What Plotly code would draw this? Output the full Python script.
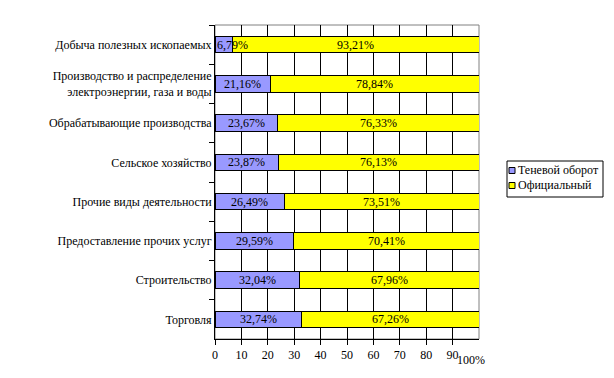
import plotly.graph_objects as go

categories = [
    "Добыча полезных ископаемых",
    "Производство и распределение<br>электроэнергии, газа и воды",
    "Обрабатывающие производства",
    "Сельское хозяйство",
    "Прочие виды деятельности",
    "Предоставление прочих услуг",
    "Строительство",
    "Торговля",
]
shadow = [6.79, 21.16, 23.67, 23.87, 26.49, 29.59, 32.04, 32.74]
official = [93.21, 78.84, 76.33, 76.13, 73.51, 70.41, 67.96, 67.26]
series_names = ["Теневой оборот", "Официальный"]
series_colors = ["#9999FF", "#FFFF00"]
x_ticks = [0, 10, 20, 30, 40, 50, 60, 70, 80, 90]

FONT = "Liberation Serif, DejaVu Serif, serif"
L, R, T, B, W, H = 215, 135, 25, 39, 614, 378
PW, PH = W - L - R, H - T - B

def px(x):
    return (x - L) / PW

def py(y):
    return (H - B - y) / PH

def fmt(v):
    return f"{v:.2f}".replace(".", ",") + "%"

fig = go.Figure()
annotations = []
for name, vals, color, base in [
    (series_names[0], shadow, series_colors[0], [0] * len(shadow)),
    (series_names[1], official, series_colors[1], shadow),
]:
    fig.add_trace(go.Bar(
        y=categories, x=vals, name=name, orientation="h",
        marker=dict(color=color, line=dict(color="black", width=1)),
        width=0.42, showlegend=False,
    ))
    for c, v, b in zip(categories, vals, base):
        narrow = v < 12
        annotations.append(dict(
            x=b if narrow else b + v / 2, y=c, xref="x", yref="y", text=fmt(v), showarrow=False,
            xanchor="left" if narrow else "center", yanchor="middle",
            font=dict(family=FONT, size=12, color="black"),
        ))

annotations.append(dict(x=100, y=0, xref="x", yref="paper", text="100%", showarrow=False,
                        xanchor="center", yanchor="top", xshift=-8, yshift=-12,
                        font=dict(family=FONT, size=12, color="black")))

shapes = [dict(type="rect", xref="paper", yref="paper", x0=0, x1=1, y0=0, y1=1,
               line=dict(color="#808080", width=1), layer="below")]

# manual legend
shapes.append(dict(type="rect", xref="paper", yref="paper",
                   x0=px(507), x1=px(603), y0=py(197), y1=py(161),
                   line=dict(color="black", width=1), fillcolor="white", layer="above"))
for i, (name, color) in enumerate(zip(series_names, series_colors)):
    yc = 170.5 + 15 * i
    shapes.append(dict(type="rect", xref="paper", yref="paper",
                       x0=px(509), x1=px(515), y0=py(yc + 3), y1=py(yc - 3),
                       line=dict(color="black", width=1), fillcolor=color, layer="above"))
    annotations.append(dict(x=px(516), y=py(yc), xref="paper", yref="paper", text=name,
                            showarrow=False, xanchor="left", yanchor="middle",
                            font=dict(family=FONT, size=12, color="black")))

fig.update_layout(
    barmode="stack",
    width=W, height=H,
    margin=dict(l=L, r=R, t=T, b=B, autoexpand=False),
    paper_bgcolor="white", plot_bgcolor="white",
    font=dict(family=FONT, size=12, color="black"),
    showlegend=False,
    xaxis=dict(
        range=[0, 100], tickvals=x_ticks, ticktext=[str(t) for t in x_ticks],
        showgrid=True, gridcolor="black", gridwidth=1,
        ticks="outside", ticklen=5, tickcolor="black",
        showline=True, linecolor="black", linewidth=1,
        zeroline=False, fixedrange=True, automargin=False,
        tickfont=dict(family=FONT, size=12),
    ),
    yaxis=dict(
        autorange="reversed", tickson="boundaries",
        ticks="outside", ticklen=5, tickcolor="black",
        showline=True, linecolor="black", linewidth=1,
        showgrid=False, automargin=False, fixedrange=True,
        tickfont=dict(family=FONT, size=12),
    ),
    shapes=shapes,
    annotations=annotations,
)

fig.write_html("out.html", config={"displayModeBar": False},
               post_script="document.body.style.margin='0';")
